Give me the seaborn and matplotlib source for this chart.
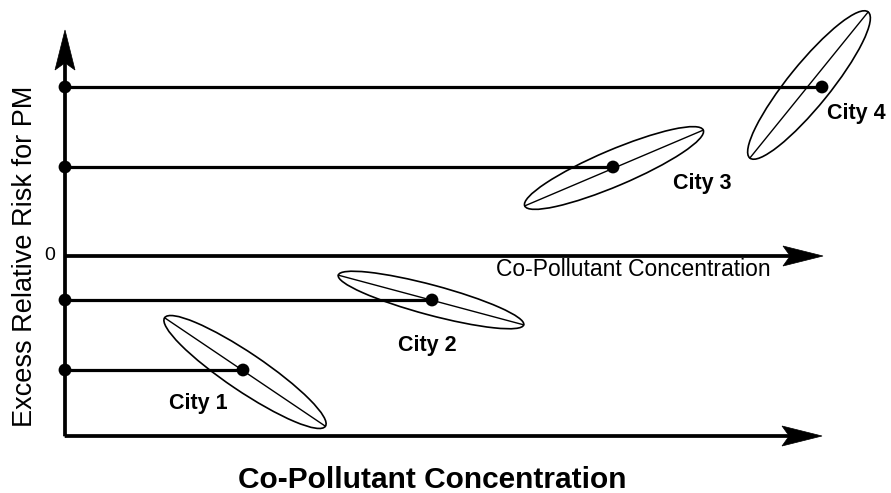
import numpy as np
import pandas as pd
import matplotlib
matplotlib.use("Agg")
import matplotlib.pyplot as plt
from matplotlib.patches import Ellipse
import seaborn as sns

# schematic data (x = co-pollutant concentration, y = excess relative risk, 0 at the zero line)
cities = ["City 1", "City 2", "City 3", "City 4"]
city_x = [178, 367, 548, 757]
city_y = [-114, -44, 89, 169]

# confidence ellipses round each city estimate
ell_x = [180, 366, 549, 744]
ell_y = [-116, -44, 88, 171]
ell_len = [194, 192, 194, 188]
ell_wid = [38, 30, 36, 42]
ell_angle = [-34, -15, 23, 51]

label_x = [133, 362, 637, 791]
label_y = [-148, -89, 73, 143]

sns.set_theme(style="white")
plt.rcParams['font.family'] = ['Liberation Sans', 'DejaVu Sans']
plt.rcParams['text.color'] = 'black'

fig = plt.figure(figsize=(8.91, 4.93), dpi=100)
ax = fig.add_axes([0, 0, 1, 1])
ax.set_xlim(-65, 826)
ax.set_ylim(-237, 256)
ax.set_aspect('equal')
ax.axis('off')

# axes drawn as arrows
arr = dict(width=3.2, head_width=20, head_length=40, overhang=0.15,
           length_includes_head=True, color='black', lw=0.5)
ax.arrow(0, -180, 0, 406, **arr)
ax.arrow(0, -180, 757, 0, **arr)
ax.arrow(0, 0, 758, 0, **arr)

for i in range(len(cities)):
    e = Ellipse((ell_x[i], ell_y[i]), ell_len[i], ell_wid[i], angle=ell_angle[i],
                fill=False, ec='black', lw=1.2)
    ax.add_patch(e)
    t = np.deg2rad(ell_angle[i])
    dx = ell_len[i] / 2 * np.cos(t)
    dy = ell_len[i] / 2 * np.sin(t)
    ax.plot([ell_x[i] - dx, ell_x[i] + dx], [ell_y[i] - dy, ell_y[i] + dy], color='black', lw=1.0)
    ax.plot([0, city_x[i]], [city_y[i], city_y[i]], color='black', lw=2.3)
    ax.text(label_x[i], label_y[i], cities[i], ha='center', va='center',
            fontsize=15.5, fontweight='bold', color='black')

df = pd.DataFrame({'x': city_x, 'y': city_y})
sns.scatterplot(data=df, x='x', y='y', color='black', s=85, edgecolor='none', ax=ax, zorder=5)
sns.scatterplot(x=[0] * len(city_y), y=city_y, color='black', s=85, edgecolor='none', ax=ax, zorder=5)
ax.axis('off')

ax.text(-15, 0, "0", ha='center', va='center', fontsize=14)
ax.text(568, -13, "Co-Pollutant Concentration", ha='center', va='center', fontsize=16.5)
ax.text(-40, 0, "Excess Relative Risk for PM", rotation=90, ha='center', va='center', fontsize=19.5)
ax.text(367, -224, "Co-Pollutant Concentration", ha='center', va='center',
        fontsize=21.5, fontweight='bold')

fig.savefig('out.png', dpi=100)
